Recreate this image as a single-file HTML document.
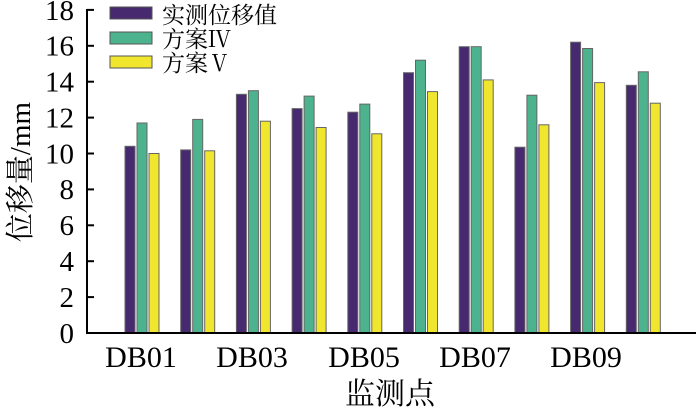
<!DOCTYPE html>
<html><head><meta charset="utf-8"><style>body{margin:0;background:#fff}</style></head><body>
<svg width="700" height="415" xmlns="http://www.w3.org/2000/svg" font-family="'Liberation Serif','Noto Serif CJK SC',serif">
<g stroke="#666" stroke-width="1">
<rect x="125" y="146.3" width="10" height="186.7" fill="#46296e"/><rect x="137" y="123" width="10" height="210" fill="#4db38e"/><rect x="149" y="153.5" width="10" height="179.5" fill="#f0e62d"/>
<rect x="180.7" y="149.9" width="10" height="183.1" fill="#46296e"/><rect x="192.7" y="119.4" width="10" height="213.6" fill="#4db38e"/><rect x="204.7" y="150.8" width="10" height="182.2" fill="#f0e62d"/>
<rect x="236.4" y="94.3" width="10" height="238.7" fill="#46296e"/><rect x="248.4" y="90.7" width="10" height="242.3" fill="#4db38e"/><rect x="260.4" y="121.2" width="10" height="211.8" fill="#f0e62d"/>
<rect x="292.1" y="108.6" width="10" height="224.4" fill="#46296e"/><rect x="304.1" y="96.1" width="10" height="236.9" fill="#4db38e"/><rect x="316.1" y="127.5" width="10" height="205.5" fill="#f0e62d"/>
<rect x="347.8" y="112.2" width="10" height="220.8" fill="#46296e"/><rect x="359.8" y="104.1" width="10" height="228.9" fill="#4db38e"/><rect x="371.8" y="133.8" width="10" height="199.2" fill="#f0e62d"/>
<rect x="403.5" y="72.7" width="10" height="260.3" fill="#46296e"/><rect x="415.5" y="60.2" width="10" height="272.8" fill="#4db38e"/><rect x="427.5" y="91.6" width="10" height="241.4" fill="#f0e62d"/>
<rect x="459.2" y="46.7" width="10" height="286.3" fill="#46296e"/><rect x="471.2" y="46.7" width="10" height="286.3" fill="#4db38e"/><rect x="483.2" y="79.9" width="10" height="253.1" fill="#f0e62d"/>
<rect x="514.9" y="147.2" width="10" height="185.8" fill="#46296e"/><rect x="526.9" y="95.2" width="10" height="237.8" fill="#4db38e"/><rect x="538.9" y="124.8" width="10" height="208.2" fill="#f0e62d"/>
<rect x="570.6" y="42.2" width="10" height="290.8" fill="#46296e"/><rect x="582.6" y="48.5" width="10" height="284.5" fill="#4db38e"/><rect x="594.6" y="82.6" width="10" height="250.4" fill="#f0e62d"/>
<rect x="626.3" y="85.3" width="10" height="247.7" fill="#46296e"/><rect x="638.3" y="71.8" width="10" height="261.2" fill="#4db38e"/><rect x="650.3" y="103.2" width="10" height="229.8" fill="#f0e62d"/>
</g>
<line x1="87" y1="333" x2="696" y2="333" stroke="#000" stroke-width="2"/>
<line x1="87" y1="9" x2="87" y2="334" stroke="#000" stroke-width="2"/>
<g stroke="#000" stroke-width="2">
<line x1="87" x2="94" y1="297.1" y2="297.1"/><line x1="87" x2="94" y1="261.2" y2="261.2"/><line x1="87" x2="94" y1="225.3" y2="225.3"/><line x1="87" x2="94" y1="189.4" y2="189.4"/><line x1="87" x2="94" y1="153.5" y2="153.5"/><line x1="87" x2="94" y1="117.6" y2="117.6"/><line x1="87" x2="94" y1="81.7" y2="81.7"/><line x1="87" x2="94" y1="45.8" y2="45.8"/><line x1="87" x2="94" y1="9.9" y2="9.9"/>
</g>
<g font-size="29" text-anchor="end">
<text x="74" y="343">0</text><text x="74" y="307">2</text><text x="74" y="271">4</text><text x="74" y="235">6</text><text x="74" y="199">8</text><text x="74" y="163.5">10</text><text x="74" y="127.5">12</text><text x="74" y="91.5">14</text><text x="74" y="55.5">16</text><text x="74" y="20">18</text>
</g>
<g font-size="30" text-anchor="middle">
<text x="141" y="367">DB01</text><text x="252" y="367">DB03</text><text x="364" y="367">DB05</text><text x="475" y="367">DB07</text><text x="586" y="367">DB09</text>
<text x="390" y="404">监测点</text>
</g>
<text transform="translate(30,172) rotate(-90)" font-size="29" text-anchor="middle">位移量/mm</text>
<g stroke="#555" stroke-width="1">
<rect x="110" y="7" width="42" height="12" fill="#46296e"/>
<rect x="110" y="32" width="42" height="12" fill="#4db38e"/>
<rect x="110" y="56" width="42" height="12" fill="#f0e62d"/>
</g>
<g font-size="23">
<text x="162" y="23">实测位移值</text>
<text x="162" y="47">方案Ⅳ</text>
<text x="162" y="71">方案Ⅴ</text>
</g>
</svg>
</body></html>
